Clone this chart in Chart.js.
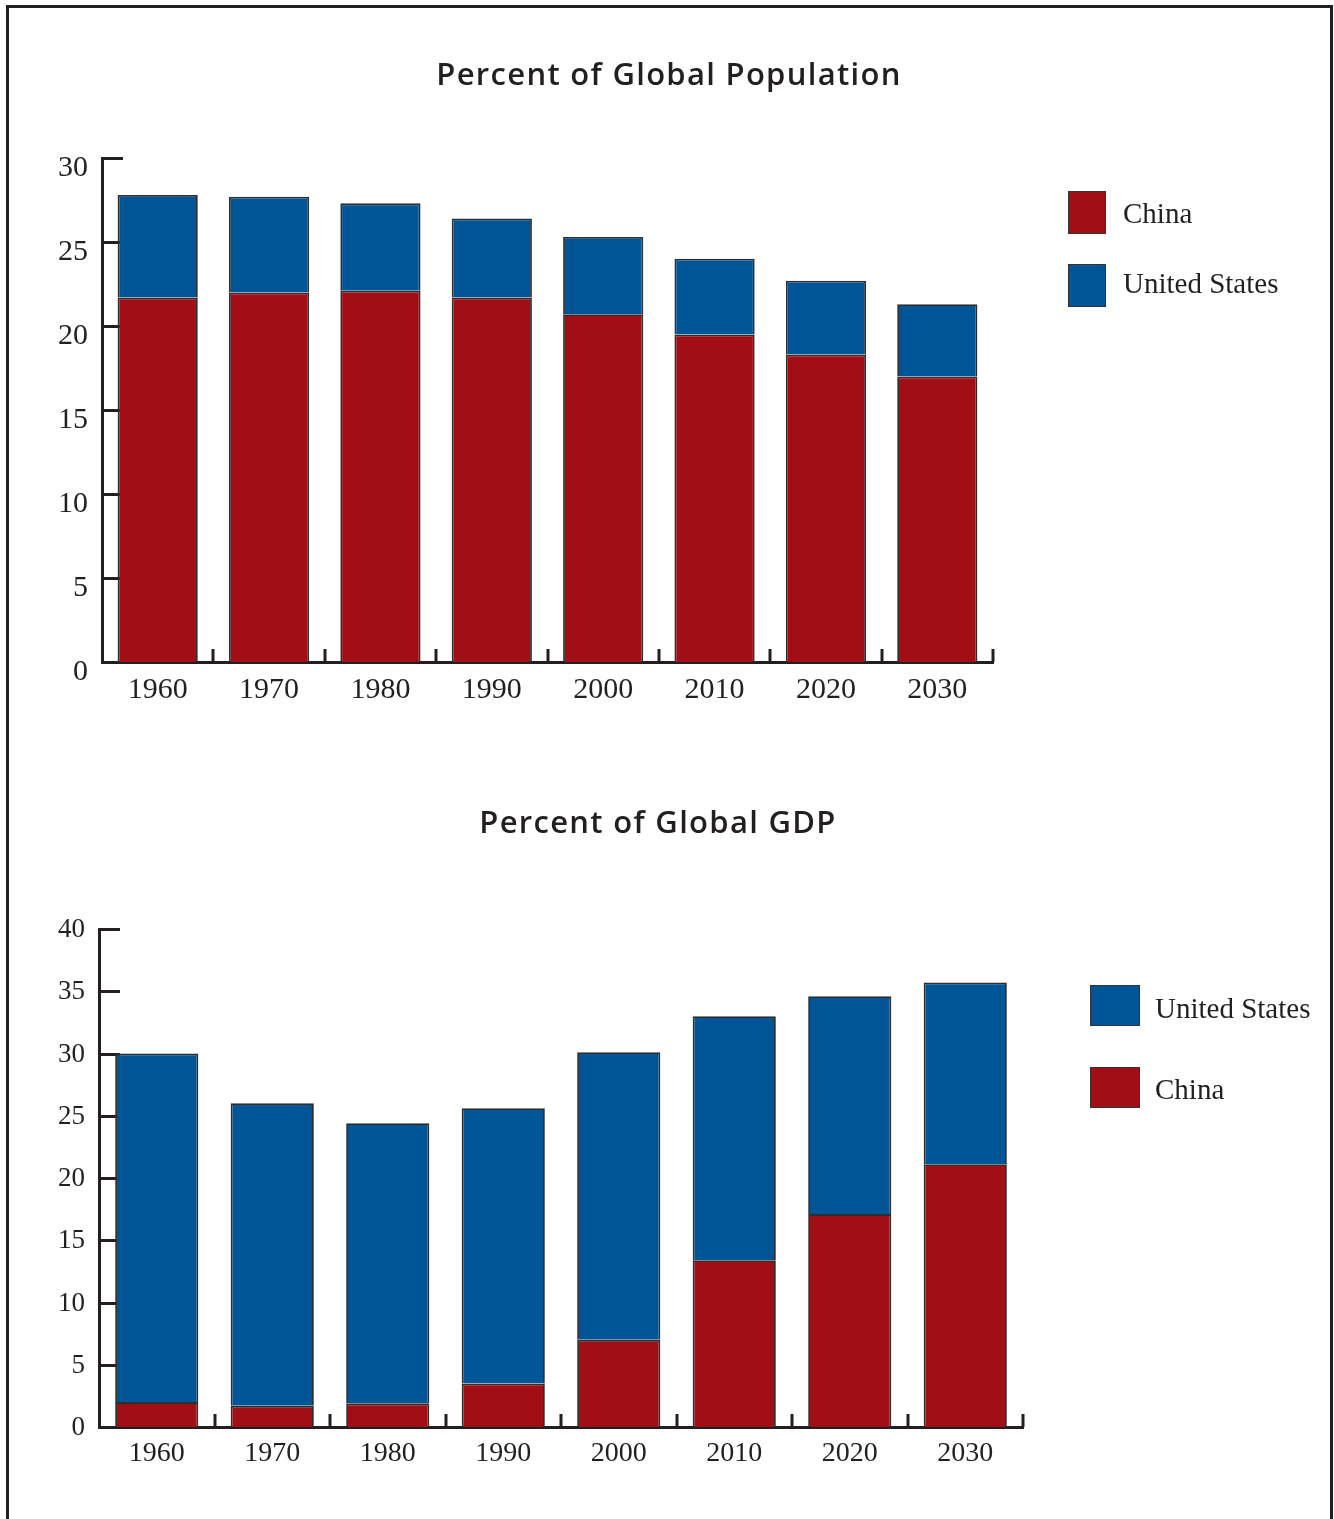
<!DOCTYPE html>
<html>
<head>
<meta charset="utf-8">
<script src="https://cdn.jsdelivr.net/npm/chart.js@4/dist/chart.umd.min.js"></script>
<style>
  html, body { margin: 0; padding: 0; background: #fff; }
  body { width: 1334px; height: 1519px; position: relative; overflow: hidden; }
  #frame { position: absolute; left: 6px; top: 5px; width: 1327px; height: 1600px;
           box-sizing: border-box; border: 3px solid #231f20; border-bottom: none; }
  .cw { position: absolute; left: 0; width: 1334px; }
  #c1w { top: 0; height: 760px; }
  #c2w { top: 760px; height: 759px; }
  .ttl { position: absolute; width: 800px; text-align: center; font-family: "Open Sans", sans-serif;
         font-weight: 600; font-size: 31px; letter-spacing: 1.3px; color: #231f20; line-height: 1; white-space: nowrap; }
  .leg { position: absolute; font-family: "Liberation Serif", serif; color: #231f20; }
  .sw { position: absolute; box-sizing: border-box; border: 1.5px solid #333; }
  .lt { position: absolute; white-space: nowrap; line-height: 1; }
</style>
</head>
<body>
<div id="frame"></div>
<div class="cw" id="c1w"><canvas id="c1" width="1334" height="760"></canvas></div>
<div class="cw" id="c2w"><canvas id="c2" width="1334" height="759"></canvas></div>

<div class="ttl" style="left:269px;top:58px">Percent of Global Population</div>
<div class="ttl" style="left:258px;top:806px">Percent of Global GDP</div>

<div class="leg">
  <div class="sw" style="left:1068px;top:191px;width:38px;height:43px;background:#a10e16"></div>
  <div class="lt" style="left:1123px;top:199px;font-size:29px">China</div>
  <div class="sw" style="left:1068px;top:264px;width:38px;height:43px;background:#005596"></div>
  <div class="lt" style="left:1123px;top:269px;font-size:29px">United States</div>

  <div class="sw" style="left:1090px;top:985px;width:50px;height:41px;background:#005596"></div>
  <div class="lt" style="left:1155px;top:994px;font-size:29px">United States</div>
  <div class="sw" style="left:1090px;top:1067px;width:50px;height:41px;background:#a10e16"></div>
  <div class="lt" style="left:1155px;top:1075px;font-size:29px">China</div>
</div>

<script>
const years = ['1960', '1970', '1980', '1990', '2000', '2010', '2020', '2030'];
const popChina = [21.7, 22.0, 22.1, 21.7, 20.7, 19.5, 18.3, 17.0];
const popUS = [6.1, 5.7, 5.2, 4.7, 4.6, 4.5, 4.4, 4.3];
const gdpChina = [2.0, 1.7, 1.9, 3.5, 7.0, 13.4, 17.1, 21.1];
const gdpUS = [28.0, 24.3, 22.5, 22.1, 23.1, 19.6, 17.5, 14.6];
const popTicks = [0, 5, 10, 15, 20, 25, 30];
const gdpTicks = [0, 5, 10, 15, 20, 25, 30, 35, 40];

const RED = '#a10e16', BLUE = '#005596', INK = '#231f20', EDGE = '#2e2e2e';

const tickPlugin = {
  id: 'innerTicks',
  beforeDatasetsDraw(chart) {
    const ctx = chart.ctx, ca = chart.chartArea;
    const y = chart.scales.y, x = chart.scales.x;
    ctx.save();
    ctx.strokeStyle = INK;
    ctx.lineWidth = 3;
    y.ticks.forEach(t => {
      if (t.value === 0) return;
      const py = Math.round(y.getPixelForValue(t.value)) + 0.5;
      ctx.beginPath(); ctx.moveTo(ca.left - 1, py); ctx.lineTo(ca.left + 21, py); ctx.stroke();
    });
    for (let i = 1; i <= years.length; i++) {
      const px = Math.round(x.getPixelForValue(i - 0.5));
      ctx.beginPath(); ctx.moveTo(px, ca.bottom); ctx.lineTo(px, ca.bottom - 13); ctx.stroke();
    }
    ctx.restore();
  }
};

function makeChart(id, cfg) {
  const ds = [
    { label: 'China', data: cfg.china, backgroundColor: RED, borderColor: EDGE, borderWidth: 1.8,
      barPercentage: 0.72, categoryPercentage: 1 },
    { label: 'United States', data: cfg.us, backgroundColor: BLUE, borderColor: EDGE, borderWidth: 1.8,
      barPercentage: 0.72, categoryPercentage: 1 }
  ];
  return new Chart(document.getElementById(id), {
    type: 'bar',
    data: { labels: years, datasets: ds },
    plugins: [tickPlugin],
    options: {
      responsive: false,
      animation: false,
      layout: { padding: { left: 0, right: cfg.padRight, top: cfg.padTop, bottom: 0 } },
      plugins: {
        legend: { display: false },
        tooltip: { enabled: false },
        title: { display: false }
      },
      scales: {
        x: {
          stacked: true, offset: true,
          grid: { display: false, drawTicks: false },
          border: { display: true, color: INK, width: 3 },
          ticks: { color: INK, padding: cfg.xPad, font: { family: '"Liberation Serif", serif', size: cfg.xFont } },
          afterFit(s) { s.height = cfg.xHeight; }
        },
        y: {
          stacked: true, min: 0, max: cfg.max,
          grid: { display: false, drawTicks: false },
          border: { display: true, color: INK, width: 3 },
          afterBuildTicks(s) { s.ticks = cfg.ticks.map(v => ({ value: v })); },
          ticks: { color: INK, padding: cfg.yPad, labelOffset: cfg.yOff,
                   font: { family: '"Liberation Serif", serif', size: cfg.yFont } },
          afterFit(s) { s.width = cfg.yWidth; }
        }
      }
    }
  });
}

makeChart('c1', {
  china: popChina, us: popUS, max: 30, ticks: popTicks,
  padRight: 1334 - 993, padTop: 158, xHeight: 760 - 662, yWidth: 102,
  xPad: 10, yPad: 14, yOff: 10, xFont: 30, yFont: 30
});
makeChart('c2', {
  china: gdpChina, us: gdpUS, max: 40, ticks: gdpTicks,
  padRight: 1334 - 1023, padTop: 169, xHeight: 759 - 667, yWidth: 99,
  xPad: 10, yPad: 14, yOff: 1, xFont: 28, yFont: 27
});
</script>
</body>
</html>
